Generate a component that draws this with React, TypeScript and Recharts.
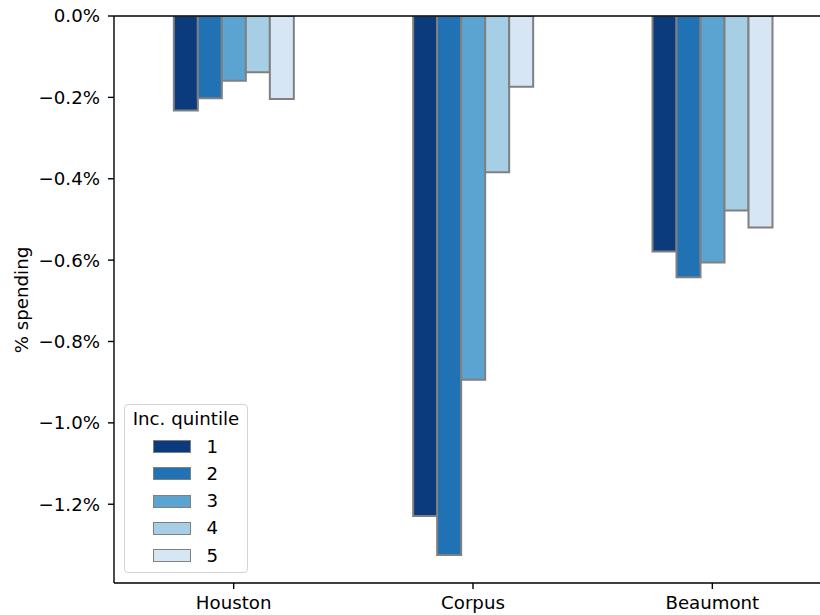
import React from 'react';
import { BarChart, Bar, XAxis, YAxis, Legend, ReferenceLine } from 'recharts';

const categories = ['Houston', 'Corpus', 'Beaumont'];
const quintileLabels = ['1', '2', '3', '4', '5'];
const q1 = [-0.232, -1.229, -0.579];
const q2 = [-0.202, -1.325, -0.642];
const q3 = [-0.159, -0.894, -0.606];
const q4 = [-0.138, -0.384, -0.478];
const q5 = [-0.204, -0.174, -0.52];
const yTicks = [0, -0.2, -0.4, -0.6, -0.8, -1.0, -1.2];
const yDomain = [-1.3936, 0];

const colors = ['#0b3b7d', '#2171b5', '#5ba3d0', '#a6cee4', '#d6e6f4'];
const series = [q1, q2, q3, q4, q5];
const keys = ['q1', 'q2', 'q3', 'q4', 'q5'];

const data = categories.map((name, i) => {
  const row: Record<string, any> = { name };
  keys.forEach((k, j) => {
    row[k] = series[j][i];
  });
  return row;
});

const FONT = '"DejaVu Sans", sans-serif';
const FS = 18.2;

const fmt = (v: number) => {
  if (Math.abs(v) < 1e-9) return '0.0%';
  return (v < 0 ? '\u2212' : '') + Math.abs(v).toFixed(1) + '%';
};

const LegendBox = () => (
  <div
    style={{
      position: 'relative',
      width: 124,
      height: 169,
      boxSizing: 'border-box',
      border: '1.4px solid #d4d4d4',
      borderRadius: 4,
      background: 'rgba(255,255,255,0.8)',
      fontFamily: FONT,
      fontSize: FS,
      color: '#000',
    }}
  >
    <div
      style={{
        position: 'absolute',
        left: 0,
        width: 122,
        top: 4,
        lineHeight: '20px',
        textAlign: 'center',
        whiteSpace: 'nowrap',
      }}
    >
      Inc. quintile
    </div>
    {quintileLabels.map((lab, i) => {
      const cy = 41.5 + i * 27.3;
      return (
        <React.Fragment key={lab}>
          <div
            style={{
              position: 'absolute',
              left: 27.5,
              top: cy - 6.5,
              width: 38,
              height: 13,
              boxSizing: 'border-box',
              border: '1.8px solid #808080',
              background: colors[i],
            }}
          />
          <div
            style={{
              position: 'absolute',
              left: 81.5,
              top: cy - 10,
              lineHeight: '20px',
            }}
          >
            {lab}
          </div>
        </React.Fragment>
      );
    })}
  </div>
);

const YLabel = () => (
  <text
    x={21}
    y={300}
    transform="rotate(-90 21 300)"
    textAnchor="middle"
    dominantBaseline="central"
    fontFamily={FONT}
    fontSize={FS}
    fill="#000"
  >
    % spending
  </text>
);

export default function App() {
  return (
    <div
      style={{
        position: 'absolute',
        left: 0,
        top: 0,
        width: 820,
        height: 615,
        overflow: 'hidden',
        background: '#fff',
      }}
    >
      <BarChart
        width={832}
        height={615}
        data={data}
        margin={{ top: 16, right: 0, left: 0, bottom: 0 }}
        barCategoryGap="25%"
        barGap={0}
      >
        <XAxis
          dataKey="name"
          height={32}
          tickSize={6}
          tickMargin={7}
          axisLine={{ stroke: '#000', strokeWidth: 1.4 }}
          tickLine={{ stroke: '#000', strokeWidth: 1.4 }}
          tick={{ fill: '#000', fontFamily: FONT, fontSize: FS }}
          interval={0}
        />
        <YAxis
          width={114}
          domain={yDomain}
          ticks={yTicks}
          allowDataOverflow
          tickFormatter={fmt}
          tickSize={6}
          tickMargin={8}
          axisLine={{ stroke: '#000', strokeWidth: 1.4 }}
          tickLine={{ stroke: '#000', strokeWidth: 1.4 }}
          tick={{ fill: '#000', fontFamily: FONT, fontSize: FS }}
          label={{ content: () => <YLabel /> }}
        />
        {keys.map((k, i) => (
          <Bar
            key={k}
            dataKey={k}
            name={quintileLabels[i]}
            fill={colors[i]}
            stroke="#808080"
            strokeWidth={2}
            isAnimationActive={false}
          />
        ))}
        <ReferenceLine y={0} stroke="#000" strokeWidth={1.4} />
        <Legend
          layout="vertical"
          align="center"
          verticalAlign="middle"
          wrapperStyle={{ left: 124, top: 404, width: 124, height: 169 }}
          content={() => <LegendBox />}
        />
      </BarChart>
    </div>
  );
}
